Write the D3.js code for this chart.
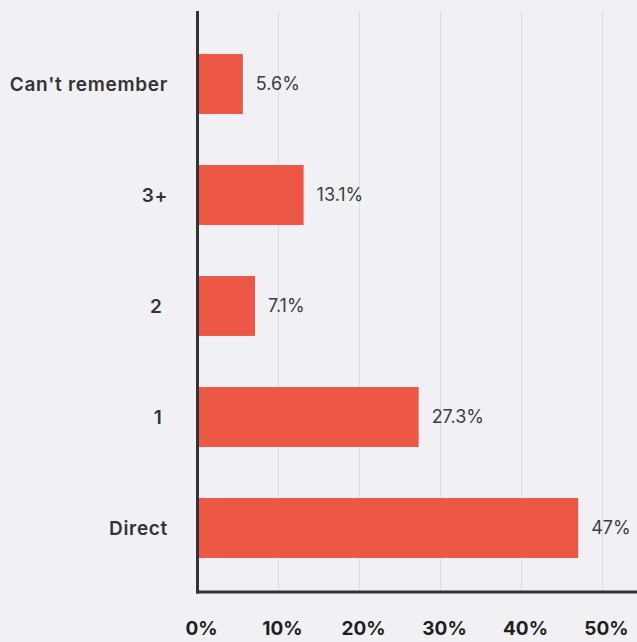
<!DOCTYPE html>
<html>
<head>
<meta charset="utf-8">
<script src="https://cdn.jsdelivr.net/npm/d3@7"></script>
<style>
  html, body { margin: 0; padding: 0; background: #f1f1f5; }
  svg { display: block; }
  text { font-family: Inter, "Noto Sans", sans-serif; }
</style>
</head>
<body>
<svg id="chart" width="637" height="642"></svg>
<script>
// Share of respondents by number of steps
const categories = ["Can't remember", "3+", "2 ", "1 ", "Direct"];
const values = [5.6, 13.1, 7.1, 27.3, 47];
const valueLabels = ["5.6%", "13.1%", "7.1%", "27.3%", "47%"];
const tickValues = [0, 10, 20, 30, 40, 50];
const tickLabels = ["0%", "10%", "20%", "30%", "40%", "50%"];

const W = 637, H = 642;
const plotLeft = 197.5, plotRight = 602.5;
const plotTop = 11, plotBottom = 592;

const svg = d3.select("#chart");
svg.append("rect").attr("width", W).attr("height", H).attr("fill", "#f1f1f5");

const x = d3.scaleLinear().domain([0, 50]).range([plotLeft, plotRight]);
const y = d3.scaleBand()
  .domain(categories)
  .range([28.5, 583.5])
  .paddingInner(0.46)
  .paddingOuter(0.23);

// vertical gridlines
svg.append("g")
  .selectAll("line")
  .data(tickValues.slice(1))
  .join("line")
  .attr("x1", d => x(d)).attr("x2", d => x(d))
  .attr("y1", plotTop).attr("y2", plotBottom)
  .attr("stroke", "#dcdcdf")
  .attr("stroke-width", 1);

// bars
svg.append("g")
  .selectAll("rect")
  .data(categories)
  .join("rect")
  .attr("x", x(0))
  .attr("y", d => y(d))
  .attr("width", (d, i) => x(values[i]) - x(0))
  .attr("height", y.bandwidth())
  .attr("fill", "#ed5745");

// value labels
svg.append("g")
  .selectAll("text")
  .data(categories)
  .join("text")
  .attr("x", (d, i) => x(values[i]) + 13)
  .attr("y", d => y(d) + y.bandwidth() / 2)
  .attr("dy", "0.35em")
  .attr("font-size", 18)
  .attr("fill", "#3d3d3f")
  .text((d, i) => valueLabels[i]);

// category labels
svg.append("g")
  .selectAll("text")
  .data(categories)
  .join("text")
  .attr("x", 168)
  .attr("y", d => y(d) + y.bandwidth() / 2)
  .attr("dy", "0.35em")
  .attr("text-anchor", "end")
  .attr("font-size", 19)
  .attr("font-weight", 600)
  .attr("letter-spacing", 0.7)
  .attr("fill", "#333335")
  .style("white-space", "pre")
  .text(d => d);

// axis lines
svg.append("line")
  .attr("x1", plotLeft).attr("x2", plotLeft)
  .attr("y1", plotTop).attr("y2", plotBottom + 1.5)
  .attr("stroke", "#333335").attr("stroke-width", 3);
svg.append("line")
  .attr("x1", plotLeft - 1.5).attr("x2", W)
  .attr("y1", plotBottom).attr("y2", plotBottom)
  .attr("stroke", "#333335").attr("stroke-width", 3);

// x tick labels
svg.append("g")
  .selectAll("text")
  .data(tickValues)
  .join("text")
  .attr("x", d => x(d) + 4)
  .attr("y", 628)
  .attr("dy", "0.35em")
  .attr("text-anchor", "middle")
  .attr("font-size", 19)
  .attr("font-weight", 700)
  .attr("fill", "#1f1f21")
  .text((d, i) => tickLabels[i]);
</script>
</body>
</html>
